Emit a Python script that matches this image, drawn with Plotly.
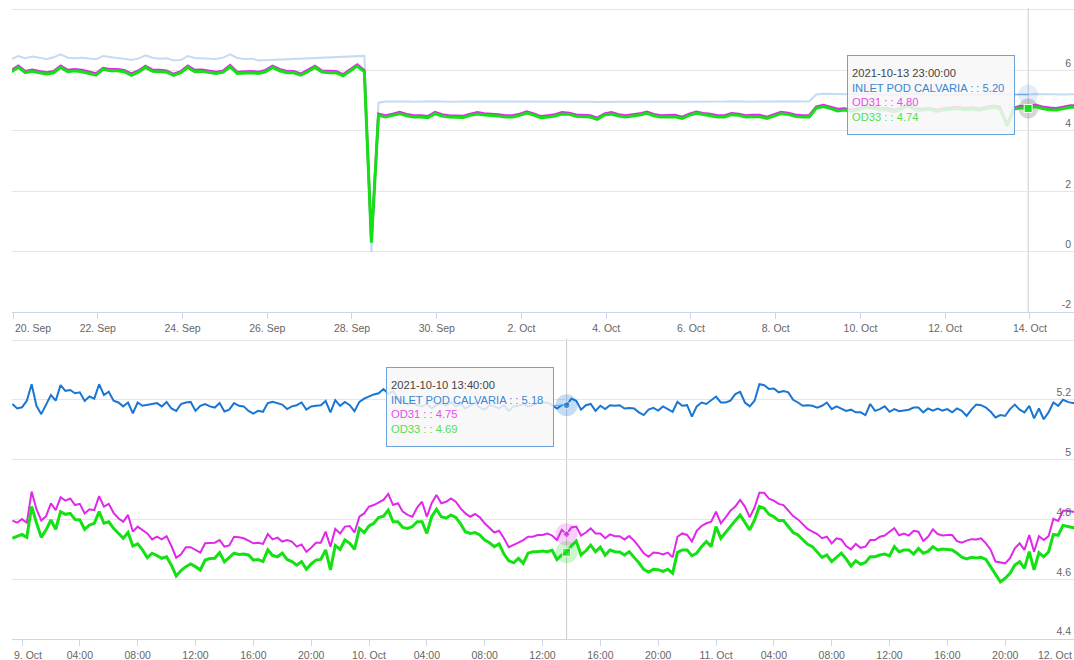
import pandas as pd
import plotly.graph_objects as go

# ---------------- data ----------------
SERIES = ["INLET POD CALVARIA", "OD31", "OD33"]
COLORS = ["#1976d2", "#e028ea", "#14e114"]

# upper chart: 4-hourly readings starting 2021-09-19 23:00
top_start = "2021-09-19 23:00"
top_step = "4h"
top_inlet = [
    6.367, 6.478, 6.400, 6.456, 6.422, 6.367, 6.433, 6.533, 6.422, 6.400,
    6.422, 6.400, 6.367, 6.478, 6.433, 6.411, 6.389, 6.344, 6.389, 6.500,
    6.422, 6.389, 6.400, 6.333, 6.344, 6.478, 6.411, 6.400, 6.411, 6.378,
    6.422, 6.533, 6.411, 6.378, 6.389, 6.330,
    None, None, None, None, None, None, None, None, None, None, None, None, None, None,
    6.48, 0.00, 4.93, 4.97,
    4.97, 4.98, 4.97, 4.96, 4.97, 4.96, 4.98, 4.97, 4.96, 4.96,
    4.97, 4.97, 4.98, 4.97, 4.97, 4.96, 4.96, 4.96, 4.97, 4.98,
    4.97, 4.96, 4.96, 4.97, 4.97, 4.97, 4.96, 4.96, 4.96, 4.95,
    4.96, 4.97, 4.96, 4.96, 4.96, 4.97, 4.97, 4.96, 4.96, 4.96,
    4.96, 4.95, 4.96, 4.97, 4.96, 4.96, 4.97, 4.97, 4.98, 4.97,
    4.97, 4.96, 4.97, 4.96, 4.97, 4.98, 4.97, 4.97, 4.97, 4.98,
    5.20, 5.23, 5.22, 5.21, 5.20, 5.19, 5.20, 5.22, 5.21, 5.20,
    5.19, 5.18, 5.20, 5.23, 5.21, 5.19, 5.19, 5.18, 5.19, 5.20,
    5.21, 5.20, 5.20, 5.19, 5.20, 5.22, 5.21, 5.19, 5.20, 5.21,
    5.20, 5.22, 5.21, 5.20, 5.19, 5.20, 5.21, 5.21,
]
top_od31 = [
    6.01, 6.15, 5.97, 6.02, 5.97, 5.93, 5.97, 6.15, 6.01, 6.04,
    6.01, 5.95, 5.90, 6.08, 6.04, 6.04, 6.01, 5.89, 5.99, 6.15,
    6.02, 6.01, 5.99, 5.88, 5.97, 6.15, 6.01, 6.02, 5.99, 5.95,
    5.99, 6.17, 5.95, 5.96, 5.97, 5.95, 6.01, 6.15, 6.04, 5.97,
    5.97, 5.89, 6.01, 6.15, 5.99, 5.97, 5.97, 5.87, 6.04, 6.19,
    6.00, 0.36, 4.56, 4.51, 4.56, 4.62, 4.55, 4.51, 4.51, 4.48,
    4.62, 4.54, 4.51, 4.49, 4.49, 4.56, 4.61, 4.57, 4.56, 4.54,
    4.51, 4.51, 4.56, 4.64, 4.57, 4.48, 4.51, 4.54, 4.61, 4.59,
    4.53, 4.52, 4.51, 4.43, 4.57, 4.61, 4.54, 4.51, 4.53, 4.57,
    4.63, 4.55, 4.51, 4.51, 4.52, 4.46, 4.56, 4.63, 4.58, 4.56,
    4.51, 4.51, 4.58, 4.56, 4.51, 4.52, 4.52, 4.46, 4.53, 4.62,
    4.59, 4.53, 4.51, 4.51, 4.80, 4.85, 4.79, 4.72, 4.74, 4.70,
    4.75, 4.82, 4.81, 4.74, 4.75, 4.69, 4.76, 4.89, 4.74, 4.73,
    4.75, 4.70, 4.74, 4.77, 4.79, 4.75, 4.77, 4.73, 4.77, 4.83,
    4.79, 4.22, 4.77, 4.82, 4.80, 4.86, 4.80, 4.76, 4.75, 4.80,
    4.84, 4.84,
]
top_od33 = [
    5.956, 6.100, 5.922, 5.967, 5.922, 5.878, 5.922, 6.100, 5.956, 5.989,
    5.956, 5.900, 5.844, 6.033, 5.989, 5.989, 5.956, 5.833, 5.944, 6.100,
    5.967, 5.956, 5.944, 5.833, 5.922, 6.100, 5.956, 5.967, 5.944, 5.900,
    5.944, 6.122, 5.900, 5.911, 5.922, 5.900, 5.956, 6.100, 5.989, 5.922,
    5.922, 5.844, 5.956, 6.100, 5.944, 5.922, 5.922, 5.822, 5.989, 6.144,
    5.950, 0.300, 4.511, 4.456, 4.511, 4.567, 4.500, 4.456, 4.456, 4.433,
    4.567, 4.489, 4.456, 4.444, 4.444, 4.511, 4.556, 4.522, 4.511, 4.489,
    4.456, 4.456, 4.511, 4.589, 4.522, 4.433, 4.456, 4.489, 4.556, 4.544,
    4.478, 4.467, 4.456, 4.378, 4.522, 4.556, 4.489, 4.456, 4.478, 4.522,
    4.578, 4.500, 4.456, 4.456, 4.467, 4.411, 4.511, 4.578, 4.533, 4.511,
    4.456, 4.456, 4.533, 4.511, 4.456, 4.467, 4.467, 4.411, 4.478, 4.567,
    4.544, 4.478, 4.456, 4.456, 4.75, 4.80, 4.74, 4.66, 4.69, 4.65,
    4.70, 4.78, 4.75, 4.69, 4.69, 4.63, 4.71, 4.84, 4.69, 4.68,
    4.71, 4.64, 4.69, 4.72, 4.74, 4.70, 4.72, 4.68, 4.72, 4.78,
    4.74, 4.15, 4.72, 4.76, 4.74, 4.80, 4.74, 4.70, 4.69, 4.74,
    4.78, 4.78,
]
top_tick_labels = ["20. Sep", "22. Sep", "24. Sep", "26. Sep", "28. Sep", "30. Sep",
                   "2. Oct", "4. Oct", "6. Oct", "8. Oct", "10. Oct", "12. Oct", "14. Oct"]
top_y_ticks = [-2, 0, 2, 4, 6, 8]
top_y_labels = ["-2", "0", "2", "4", "6", ""]

# lower chart: 20-minute readings starting 2021-10-08 23:20
bot_start = "2021-10-08 23:20"
bot_step = "20min"
bot_inlet = [
    5.186, 5.171, 5.175, 5.197, 5.252, 5.180, 5.152, 5.186, 5.216, 5.197,
    5.249, 5.230, 5.233, 5.222, 5.225, 5.196, 5.211, 5.204, 5.252, 5.216,
    5.227, 5.197, 5.191, 5.178, 5.191, 5.155, 5.191, 5.180, 5.182, 5.186,
    5.189, 5.178, 5.193, 5.171, 5.163, 5.186, 5.191, 5.193, 5.163, 5.180,
    5.186, 5.178, 5.174, 5.189, 5.161, 5.167, 5.189, 5.180, 5.178, 5.163,
    5.154, 5.163, 5.160, 5.189, 5.193, 5.189, 5.184, 5.169, 5.178, 5.182,
    5.191, 5.167, 5.178, 5.180, 5.182, 5.196, 5.158, 5.199, 5.180, 5.193,
    5.182, 5.162, 5.193, 5.204, 5.211, 5.218, 5.222, 5.236, 5.220, 5.229,
    5.204, 5.196, 5.184, 5.191, 5.182, 5.178, 5.187, 5.171, 5.182, 5.189,
    5.180, 5.193, 5.178, 5.186, 5.171, 5.182, 5.191, 5.174, 5.167, 5.182,
    5.178, 5.171, 5.182, 5.163, 5.178, 5.180, 5.186, 5.178, 5.182, 5.189,
    5.189, 5.191, 5.182, 5.171, 5.182, 5.182, 5.204, 5.197, 5.167, 5.182,
    5.186, 5.163, 5.180, 5.169, 5.182, 5.180, 5.182, 5.171, 5.173, 5.171,
    5.158, 5.149, 5.167, 5.173, 5.164, 5.178, 5.169, 5.160, 5.193, 5.180,
    5.182, 5.144, 5.178, 5.191, 5.186, 5.197, 5.211, 5.191, 5.191, 5.197,
    5.219, 5.227, 5.191, 5.178, 5.197, 5.252, 5.249, 5.236, 5.238, 5.225,
    5.229, 5.225, 5.200, 5.191, 5.180, 5.182, 5.180, 5.174, 5.180, 5.191,
    5.169, 5.178, 5.171, 5.163, 5.167, 5.158, 5.158, 5.149, 5.186, 5.163,
    5.169, 5.178, 5.160, 5.169, 5.162, 5.164, 5.167, 5.174, 5.174, 5.158,
    5.171, 5.164, 5.171, 5.164, 5.169, 5.158, 5.171, 5.163, 5.146, 5.167,
    5.184, 5.182, 5.174, 5.160, 5.141, 5.149, 5.146, 5.169, 5.184, 5.167,
    5.158, 5.180, 5.138, 5.171, 5.135, 5.158, 5.191, 5.180, 5.200, 5.193,
    5.189, 5.189,
]
bot_od31 = [
    4.796, 4.789, 4.801, 4.789, 4.893, 4.834, 4.796, 4.811, 4.854, 4.831,
    4.874, 4.863, 4.870, 4.848, 4.852, 4.820, 4.834, 4.831, 4.878, 4.843,
    4.852, 4.822, 4.804, 4.792, 4.815, 4.759, 4.776, 4.765, 4.753, 4.733,
    4.742, 4.733, 4.744, 4.711, 4.672, 4.683, 4.707, 4.707, 4.698, 4.689,
    4.720, 4.722, 4.722, 4.731, 4.709, 4.713, 4.742, 4.740, 4.737, 4.729,
    4.720, 4.722, 4.718, 4.751, 4.733, 4.739, 4.726, 4.731, 4.726, 4.709,
    4.716, 4.692, 4.705, 4.722, 4.722, 4.759, 4.709, 4.768, 4.753, 4.776,
    4.778, 4.756, 4.809, 4.820, 4.843, 4.848, 4.856, 4.865, 4.885, 4.848,
    4.854, 4.826, 4.815, 4.809, 4.840, 4.859, 4.809, 4.854, 4.882, 4.854,
    4.859, 4.870, 4.859, 4.837, 4.820, 4.809, 4.818, 4.807, 4.787, 4.773,
    4.756, 4.762, 4.737, 4.707, 4.714, 4.722, 4.731, 4.742, 4.742, 4.748,
    4.748, 4.753, 4.746, 4.731, 4.765, 4.750, 4.773, 4.776, 4.746, 4.756,
    4.770, 4.753, 4.753, 4.737, 4.750, 4.744, 4.744, 4.733, 4.744, 4.729,
    4.709, 4.687, 4.675, 4.689, 4.688, 4.683, 4.689, 4.673, 4.742, 4.753,
    4.748, 4.726, 4.762, 4.778, 4.787, 4.792, 4.826, 4.787, 4.807, 4.829,
    4.843, 4.865, 4.843, 4.807, 4.840, 4.889, 4.889, 4.869, 4.863, 4.852,
    4.848, 4.831, 4.811, 4.800, 4.785, 4.768, 4.759, 4.751, 4.737, 4.742,
    4.720, 4.737, 4.733, 4.711, 4.700, 4.718, 4.705, 4.709, 4.731, 4.731,
    4.742, 4.746, 4.759, 4.771, 4.747, 4.753, 4.746, 4.762, 4.759, 4.728,
    4.742, 4.767, 4.751, 4.746, 4.748, 4.748, 4.727, 4.722, 4.729, 4.734,
    4.733, 4.737, 4.720, 4.698, 4.659, 4.655, 4.653, 4.670, 4.703, 4.720,
    4.698, 4.748, 4.692, 4.744, 4.731, 4.744, 4.802, 4.795, 4.829, 4.829,
    4.826, 4.826,
]
bot_od33 = [
    4.737, 4.744, 4.750, 4.740, 4.843, 4.789, 4.740, 4.765, 4.798, 4.767,
    4.826, 4.817, 4.820, 4.800, 4.798, 4.767, 4.781, 4.787, 4.826, 4.787,
    4.792, 4.770, 4.753, 4.737, 4.756, 4.711, 4.718, 4.698, 4.672, 4.687,
    4.679, 4.670, 4.675, 4.647, 4.611, 4.629, 4.642, 4.651, 4.642, 4.631,
    4.664, 4.669, 4.670, 4.689, 4.658, 4.672, 4.687, 4.683, 4.684, 4.681,
    4.664, 4.666, 4.659, 4.698, 4.679, 4.675, 4.687, 4.666, 4.659, 4.647,
    4.659, 4.633, 4.651, 4.664, 4.666, 4.698, 4.631, 4.713, 4.700, 4.731,
    4.720, 4.700, 4.770, 4.756, 4.778, 4.787, 4.806, 4.811, 4.831, 4.792,
    4.792, 4.773, 4.770, 4.776, 4.792, 4.792, 4.753, 4.809, 4.834, 4.809,
    4.804, 4.815, 4.807, 4.785, 4.759, 4.753, 4.756, 4.748, 4.731, 4.722,
    4.709, 4.718, 4.684, 4.662, 4.655, 4.670, 4.653, 4.687, 4.692, 4.692,
    4.694, 4.692, 4.697, 4.666, 4.681, 4.690, 4.712, 4.727, 4.681, 4.695,
    4.714, 4.692, 4.707, 4.680, 4.698, 4.692, 4.691, 4.681, 4.692, 4.673,
    4.655, 4.633, 4.624, 4.633, 4.632, 4.626, 4.633, 4.620, 4.690, 4.698,
    4.698, 4.678, 4.687, 4.709, 4.726, 4.709, 4.776, 4.737, 4.758, 4.776,
    4.796, 4.815, 4.789, 4.765, 4.798, 4.843, 4.837, 4.817, 4.809, 4.796,
    4.796, 4.776, 4.756, 4.748, 4.733, 4.717, 4.709, 4.689, 4.673, 4.681,
    4.659, 4.673, 4.687, 4.668, 4.644, 4.662, 4.650, 4.656, 4.675, 4.675,
    4.681, 4.684, 4.678, 4.709, 4.691, 4.698, 4.698, 4.684, 4.703, 4.687,
    4.693, 4.709, 4.698, 4.701, 4.700, 4.698, 4.687, 4.674, 4.668, 4.673,
    4.671, 4.673, 4.666, 4.640, 4.614, 4.591, 4.603, 4.620, 4.647, 4.659,
    4.636, 4.692, 4.631, 4.689, 4.675, 4.691, 4.750, 4.747, 4.780, 4.776,
    4.771, 4.769,
]
bot_tick_labels = ["9. Oct", "04:00", "08:00", "12:00", "16:00", "20:00",
                   "10. Oct", "04:00", "08:00", "12:00", "16:00", "20:00",
                   "11. Oct", "04:00", "08:00", "12:00", "16:00", "20:00",
                   "12. Oct"]
bot_y_ticks = [4.4, 4.6, 4.8, 5.0, 5.2, 5.4]
bot_y_labels = ["4.4", "4.6", "4.8", "5", "5.2", ""]

top_hover_idx = 144   # 2021-10-13 23:00
bot_hover_idx = 115   # 2021-10-10 13:40

assert len(top_inlet) == len(top_od31) == len(top_od33), (len(top_inlet), len(top_od31), len(top_od33))
assert len(bot_inlet) == len(bot_od31) == len(bot_od33), (len(bot_inlet), len(bot_od31), len(bot_od33))

top_t = pd.date_range(top_start, periods=len(top_od33), freq=top_step)
bot_t = pd.date_range(bot_start, periods=len(bot_od33), freq=bot_step)
top_tick_vals = pd.date_range("2021-09-20", periods=len(top_tick_labels), freq="2D")
bot_tick_vals = pd.date_range("2021-10-09", periods=len(bot_tick_labels), freq="4h")

FONT = "Liberation Sans, Arial, sans-serif"
AXIS_COL = "#ccd6eb"
GRID_COL = "#e6e6e6"
LABEL_COL = "#666666"

fig = go.Figure()

# ---- upper chart ----
fig.add_trace(go.Scatter(x=top_t, y=top_inlet, mode="lines", name=SERIES[0], connectgaps=True,
                         line=dict(color=COLORS[0], width=2), opacity=0.25, xaxis="x", yaxis="y"))
fig.add_trace(go.Scatter(x=top_t, y=top_od31, mode="lines", name=SERIES[1],
                         line=dict(color=COLORS[1], width=2.5), xaxis="x", yaxis="y"))
fig.add_trace(go.Scatter(x=top_t, y=top_od33, mode="lines", name=SERIES[2],
                         line=dict(color=COLORS[2], width=3), xaxis="x", yaxis="y"))

# ---- lower chart ----
fig.add_trace(go.Scatter(x=bot_t, y=bot_inlet, mode="lines", name=SERIES[0],
                         line=dict(color=COLORS[0], width=2), xaxis="x2", yaxis="y2"))
fig.add_trace(go.Scatter(x=bot_t, y=bot_od31, mode="lines", name=SERIES[1],
                         line=dict(color=COLORS[1], width=2), xaxis="x2", yaxis="y2"))
fig.add_trace(go.Scatter(x=bot_t, y=bot_od33, mode="lines", name=SERIES[2],
                         line=dict(color=COLORS[2], width=3), xaxis="x2", yaxis="y2"))

# ---- hover state markers ----
ti, bi = top_hover_idx, bot_hover_idx
fig.add_trace(go.Scatter(x=[top_t[ti]], y=[top_inlet[ti]], mode="markers", xaxis="x", yaxis="y",
                         marker=dict(size=20, color="rgba(25,118,210,0.12)")))
fig.add_trace(go.Scatter(x=[top_t[ti]], y=[top_od33[ti]], mode="markers", xaxis="x", yaxis="y",
                         marker=dict(size=20, color="rgba(120,120,120,0.30)")))
fig.add_trace(go.Scatter(x=[top_t[ti]], y=[top_od33[ti]], mode="markers", xaxis="x", yaxis="y",
                         marker=dict(size=8, symbol="square", color=COLORS[2],
                                     line=dict(color="white", width=1))))

fig.add_trace(go.Scatter(x=[bot_t[bi]] * 3, y=[bot_inlet[bi], bot_od31[bi], bot_od33[bi]],
                         mode="markers", xaxis="x2", yaxis="y2",
                         marker=dict(size=22, color=["rgba(25,118,210,0.25)", "rgba(224,40,234,0.22)",
                                                     "rgba(20,225,20,0.22)"])))
fig.add_trace(go.Scatter(x=[bot_t[bi]] * 3, y=[bot_inlet[bi], bot_od31[bi], bot_od33[bi]],
                         mode="markers", xaxis="x2", yaxis="y2",
                         marker=dict(size=[7, 6, 8], symbol=["circle", "diamond", "square"],
                                     color=COLORS, line=dict(color="white", width=1))))

# ---- crosshairs ----
shapes = [
    dict(type="line", xref="x", yref="y domain", x0=top_t[ti], x1=top_t[ti], y0=0, y1=1,
         line=dict(color="#cccccc", width=1), layer="below"),
    dict(type="line", xref="x2", yref="y2 domain", x0=bot_t[bi], x1=bot_t[bi], y0=0, y1=1,
         line=dict(color="#cccccc", width=1), layer="below"),
]

TIP_COLORS = ["#3a86d4", "#e64ee6", "#55dd55"]


def tooltip_text(t, vals):
    lines = [f"<span style='color:#444444'>{t.strftime('%Y-%m-%d %H:%M:%S')}</span>"]
    for name, col, v in zip(SERIES, TIP_COLORS, vals):
        lines.append(f"<span style='color:{col}'>{name} : : {v:.2f}</span>")
    return "<br>".join(lines)


tip_common = dict(showarrow=True, arrowhead=0, arrowwidth=1, arrowcolor="#6aa3dd", standoff=0,
                  bgcolor="rgba(247,247,247,0.85)", bordercolor="#6aa3dd", borderwidth=1,
                  borderpad=4, width=158, height=70, align="left", valign="middle",
                  font=dict(family=FONT, size=11.2, color="#333333"))

annotations = [
    dict(x=top_t[ti], y=top_inlet[ti], xref="x", yref="y", ax=-97, ay=0,
         text=tooltip_text(top_t[ti], [top_inlet[ti], top_od31[ti], top_od33[ti]]), **tip_common),
    dict(x=bot_t[bi], y=bot_inlet[bi], xref="x2", yref="y2", ax=-97, ay=2,
         text=tooltip_text(bot_t[bi], [bot_inlet[bi], bot_od31[bi], bot_od33[bi]]), **tip_common),
    # edge tick labels kept inside the chart
    dict(x=top_tick_vals[0], y=0, xref="x", yref="y domain", xanchor="left", yanchor="top",
         yshift=-8, showarrow=False, text=top_tick_labels[0],
         font=dict(family=FONT, size=10.5, color=LABEL_COL)),
    dict(x=0, y=0, xref="x2 domain", yref="y2 domain", xanchor="left", yanchor="top",
         yshift=-8, showarrow=False, text=bot_tick_labels[0],
         font=dict(family=FONT, size=10.5, color=LABEL_COL)),
    dict(x=1, y=0, xref="x2 domain", yref="y2 domain", xanchor="right", yanchor="top",
         yshift=-8, showarrow=False, text=bot_tick_labels[-1],
         font=dict(family=FONT, size=10.5, color=LABEL_COL)),
]

top_tick_text = [""] + top_tick_labels[1:]
bot_tick_text = [""] + bot_tick_labels[1:-1] + [""]

xcommon = dict(showgrid=False, zeroline=False, showline=True, linecolor=AXIS_COL, linewidth=1,
               ticks="outside", ticklen=6, tickcolor=AXIS_COL, tickwidth=1,
               tickfont=dict(family=FONT, size=10.5, color=LABEL_COL), tickmode="array")
ycommon = dict(showgrid=True, gridcolor=GRID_COL, gridwidth=1, zeroline=False, showline=False,
               side="right", ticks="", ticklabelposition="inside top",
               tickfont=dict(family=FONT, size=10.5, color=LABEL_COL), tickmode="array")

fig.update_layout(
    width=1074, height=660,
    margin=dict(l=12, r=0, t=8, b=21),
    paper_bgcolor="white", plot_bgcolor="white",
    showlegend=False, hovermode=False,
    font=dict(family=FONT, color=LABEL_COL),
    xaxis=dict(domain=[0, 1], anchor="y", range=["2021-09-19 23:26", "2021-10-15 00:57"],
               tickvals=list(top_tick_vals), ticktext=top_tick_text, **xcommon),
    yaxis=dict(domain=[0.5182, 1.0], anchor="x", range=[-2, 8.066],
               tickvals=top_y_ticks, ticktext=top_y_labels, **ycommon),
    xaxis2=dict(domain=[0, 1], anchor="y2", range=["2021-10-08 23:18:30", "2021-10-12 00:45:36"],
                tickvals=list(bot_tick_vals), ticktext=bot_tick_text, **xcommon),
    yaxis2=dict(domain=[0, 0.4762], anchor="x2", range=[4.4, 5.405],
                tickvals=bot_y_ticks, ticktext=bot_y_labels, **ycommon),
    shapes=shapes,
    annotations=annotations,
)

fig.write_html("out.html",
               config={"displayModeBar": False},
               post_script="document.body.style.margin='0px';document.body.style.overflow='hidden';")
